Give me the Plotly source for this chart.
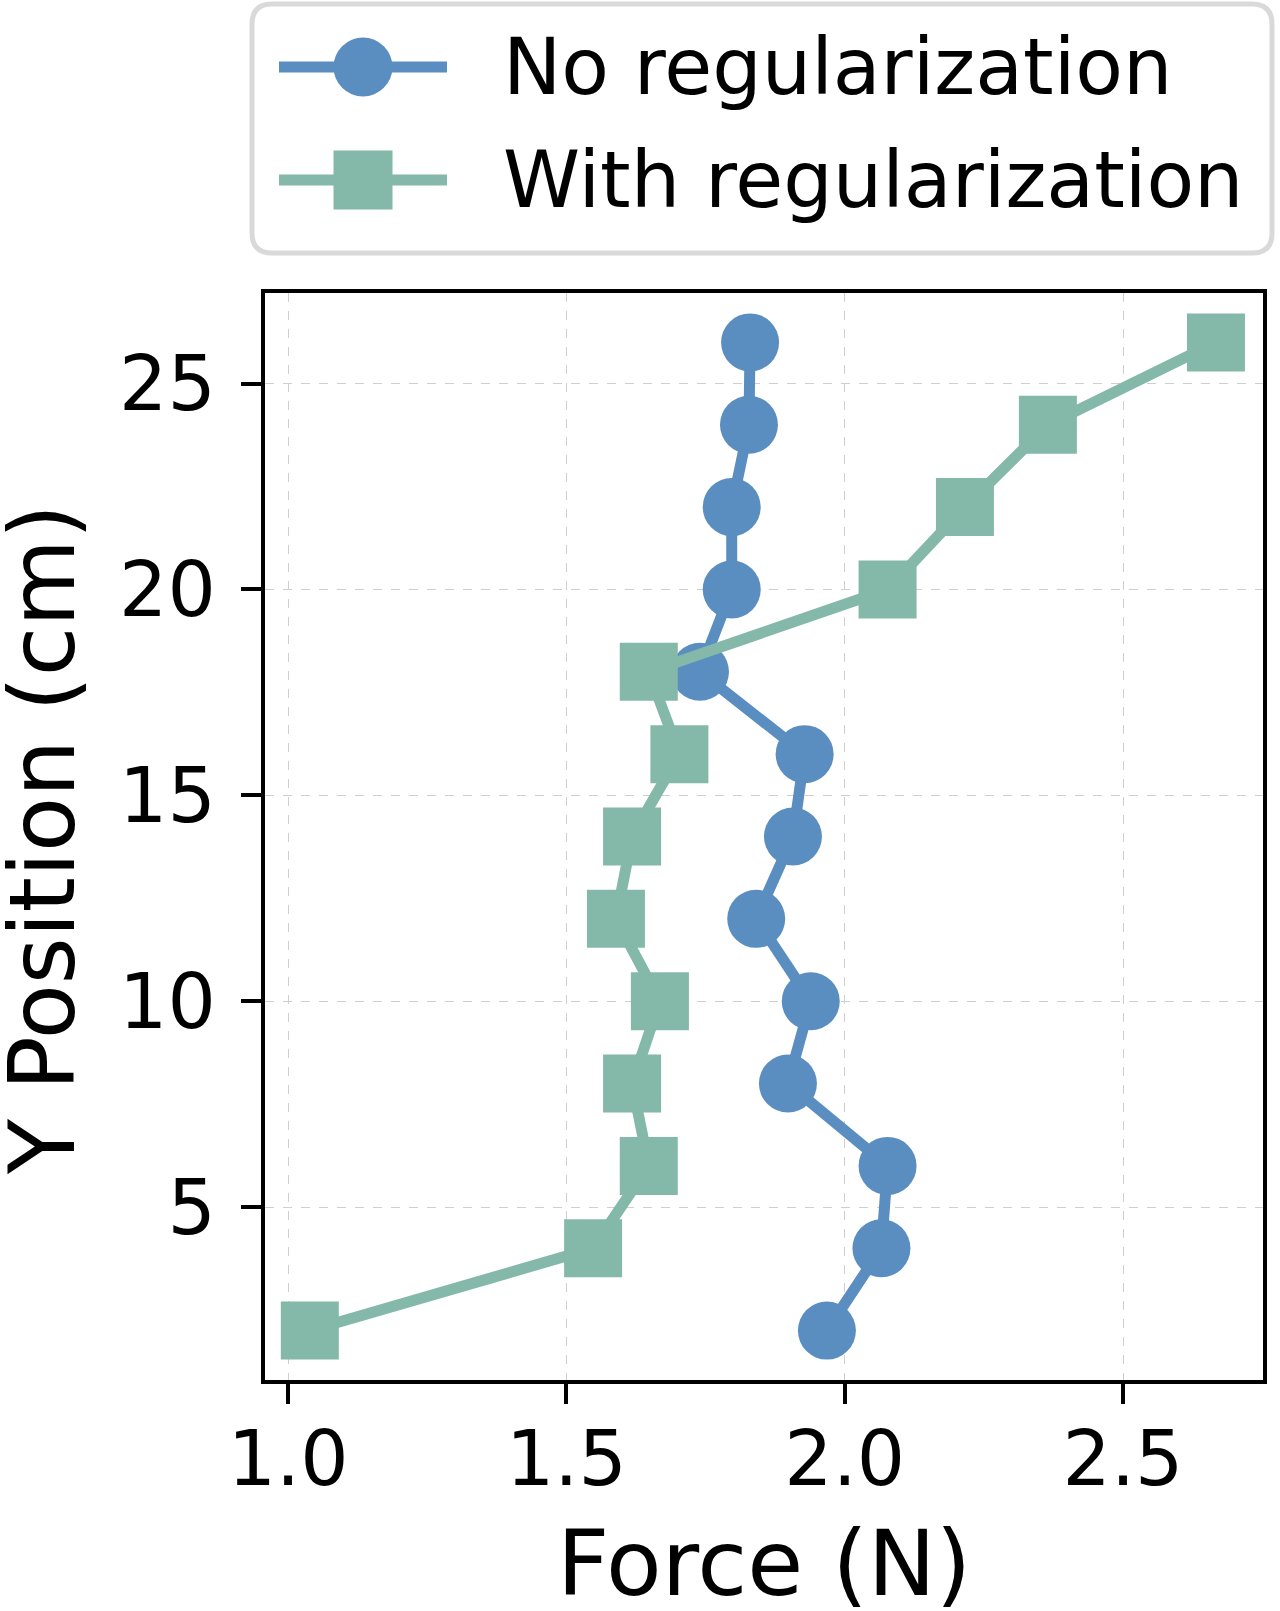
import plotly.graph_objects as go

# ---- data ----
y_pos = [2, 4, 6, 8, 10, 12, 14, 16, 18, 20, 22, 24, 26]
force_no_reg = [1.968, 2.066, 2.077, 1.898, 1.939, 1.841, 1.907, 1.928, 1.740, 1.797, 1.797, 1.828, 1.830]
force_with_reg = [1.039, 1.548, 1.648, 1.618, 1.668, 1.589, 1.618, 1.703, 1.648, 2.077, 2.216, 2.365, 2.667]
series_names = ["No regularization", "With regularization"]
x_ticks = [1.0, 1.5, 2.0, 2.5]
y_ticks = [5, 10, 15, 20, 25]
x_title = "Force (N)"
y_title = "Y Position (cm)"

BLUE = "#5B8EC0"
GREEN = "#84B8A8"
FONT = "DejaVu Sans"
W, H = 1280, 1611

def px(x):
    return x / W

def py(y):
    return 1 - y / H

fig = go.Figure()
fig.add_trace(go.Scatter(
    x=force_no_reg, y=y_pos, mode="lines+markers", name=series_names[0],
    line=dict(color=BLUE, width=11),
    marker=dict(symbol="circle", size=58, color=BLUE),
    showlegend=False,
))
fig.add_trace(go.Scatter(
    x=force_with_reg, y=y_pos, mode="lines+markers", name=series_names[1],
    line=dict(color=GREEN, width=11),
    marker=dict(symbol="square", size=58, color=GREEN),
    showlegend=False,
))

# ---- custom legend (on a hidden axis pair) ----
lx0, lx1, ly0, ly1 = 254, 1272, 4, 253
rows = [67, 180]
samp_x0, samp_x1, samp_xm = 279, 447, 363

def fx(p):
    return (p - lx0) / (lx1 - lx0)

def fy(p):
    return 1 - (p - ly0) / (ly1 - ly0)

for name, col, sym, ry in [(series_names[0], BLUE, "circle", rows[0]),
                           (series_names[1], GREEN, "square", rows[1])]:
    fig.add_trace(go.Scatter(
        x=[fx(samp_x0), fx(samp_x1)], y=[fy(ry), fy(ry)], mode="lines",
        line=dict(color=col, width=11), xaxis="x2", yaxis="y2",
        showlegend=False, hoverinfo="skip",
    ))
    fig.add_trace(go.Scatter(
        x=[fx(samp_xm)], y=[fy(ry)], mode="markers",
        marker=dict(symbol=sym, size=59, color=col), xaxis="x2", yaxis="y2",
        showlegend=False, hoverinfo="skip",
    ))
    fig.add_annotation(
        x=px(501), y=py(ry), xref="paper", yref="paper", text=name,
        showarrow=False, xanchor="left", yanchor="middle",
        font=dict(family=FONT, size=78, color="black"),
    )

# rounded legend frame
r = 20
def rounded_path(x0, y0, x1, y1, r):
    rx, ry = r / W, r / H
    X0, X1 = px(x0), px(x1)
    Y0, Y1 = py(y1), py(y0)  # bottom, top in paper
    return (f"M {X0+rx},{Y1} L {X1-rx},{Y1} Q {X1},{Y1} {X1},{Y1-ry} "
            f"L {X1},{Y0+ry} Q {X1},{Y0} {X1-rx},{Y0} L {X0+rx},{Y0} "
            f"Q {X0},{Y0} {X0},{Y0+ry} L {X0},{Y1-ry} Q {X0},{Y1} {X0+rx},{Y1} Z")

fig.add_shape(type="path", path=rounded_path(lx0 - 2, ly0, lx1, ly1, r),
              xref="paper", yref="paper",
              line=dict(color="#D9D9D9", width=5), fillcolor="rgba(255,255,255,0.8)",
              layer="below")

# axis titles
fig.add_annotation(x=px(764), y=py(1563), xref="paper", yref="paper", text=x_title,
                   showarrow=False, xanchor="center", yanchor="middle",
                   font=dict(family=FONT, size=91, color="black"))
fig.add_annotation(x=px(42), y=py(840), xref="paper", yref="paper", text=y_title,
                   showarrow=False, xanchor="center", yanchor="middle", textangle=-90,
                   font=dict(family=FONT, size=90, color="black"))

x_dom = [265 / W, 1263 / W]
y_dom = [py(1380), py(293)]

axis_common = dict(
    showline=True, linecolor="black", linewidth=4, mirror=True,
    ticks="outside", ticklen=20, tickwidth=4, tickcolor="black",
    showgrid=True, gridcolor="#CFCFCF", gridwidth=1, griddash="dash",
    zeroline=False, automargin=False,
    tickfont=dict(family=FONT, size=76, color="black"),
)

fig.update_layout(
    width=W, height=H,
    margin=dict(l=0, r=0, t=0, b=0),
    plot_bgcolor="white", paper_bgcolor="white",
    font=dict(family=FONT, color="black"),
    xaxis=dict(
        domain=x_dom, range=[0.9585, 2.7515],
        tickvals=x_ticks, ticktext=[f"{v:.1f}" for v in x_ticks],
        ticklabelstandoff=-10,
        **axis_common,
    ),
    yaxis=dict(
        domain=y_dom, range=[0.8, 27.2],
        tickvals=y_ticks, ticktext=[str(v) for v in y_ticks],
        ticklabelstandoff=10,
        **axis_common,
    ),
    xaxis2=dict(domain=[px(lx0), px(lx1)], range=[0, 1], visible=False, anchor="y2"),
    yaxis2=dict(domain=[py(ly1), py(ly0)], range=[0, 1], visible=False, anchor="x2"),
)

fig.write_html("out.html")
